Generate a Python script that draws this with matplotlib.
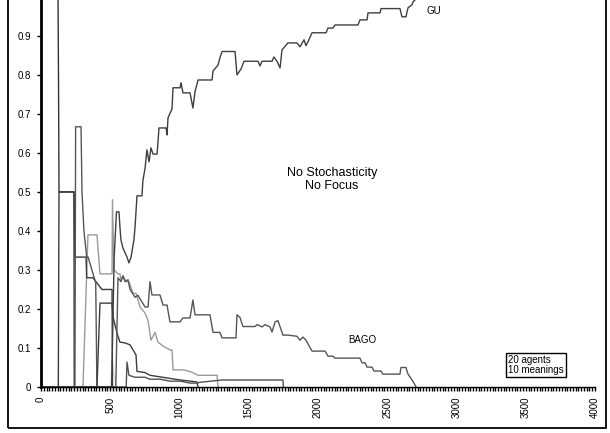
import matplotlib
matplotlib.use("Agg")
import matplotlib.pyplot as plt
from matplotlib.patches import Rectangle
import numpy as np

plt.rcParams['font.family'] = ['Liberation Sans', 'DejaVu Sans']

# --- data (iterations vs. share of agents) ---
gu_x = [0, 510, 528, 545, 563, 570, 577, 592, 621, 635, 650, 671, 679, 693, 729, 736,
        751, 765, 780, 794, 809, 838, 852, 903, 910, 917, 946, 953, 1004, 1011, 1025,
        1076, 1097, 1112, 1134, 1235, 1242, 1278, 1292, 1307, 1401, 1415, 1444, 1466,
        1567, 1581, 1596, 1617, 1668, 1682, 1704, 1726, 1740, 1783, 1848, 1870, 1899,
        1913, 1928, 1957, 2058, 2072, 2108, 2123, 2289, 2303, 2354, 2361, 2448, 2455,
        2592, 2606, 2635, 2650, 2679, 2686, 2722]
gu_y = [0, 0, 0.33, 0.449, 0.449, 0.41, 0.377, 0.356, 0.333, 0.318, 0.333, 0.377, 0.41,
        0.49, 0.49, 0.53, 0.56, 0.608, 0.577, 0.613, 0.597, 0.597, 0.664, 0.664, 0.646,
        0.69, 0.713, 0.767, 0.767, 0.78, 0.754, 0.754, 0.715, 0.757, 0.787, 0.787, 0.81,
        0.825, 0.844, 0.86, 0.86, 0.8, 0.815, 0.835, 0.835, 0.823, 0.835, 0.835, 0.835,
        0.846, 0.835, 0.818, 0.864, 0.882, 0.882, 0.872, 0.89, 0.875, 0.885, 0.908,
        0.908, 0.92, 0.92, 0.928, 0.928, 0.941, 0.941, 0.959, 0.959, 0.97, 0.97, 0.949,
        0.949, 0.972, 0.98, 0.987, 1.0]

bago_x = [0, 540, 556, 578, 592, 607, 628, 643, 679, 700, 751, 773, 787, 801, 859, 881,
          910, 931, 1004, 1025, 1076, 1097, 1112, 1220, 1242, 1292, 1307, 1408, 1415,
          1437, 1458, 1545, 1560, 1596, 1617, 1653, 1668, 1690, 1711, 1747, 1783, 1848,
          1870, 1892, 1913, 1957, 2051, 2072, 2108, 2123, 2303, 2318, 2340, 2354, 2390,
          2404, 2455, 2469, 2592, 2599, 2635, 2650, 2679, 2693, 2708]
bago_y = [0, 0, 0.28, 0.27, 0.285, 0.27, 0.275, 0.25, 0.23, 0.235, 0.205, 0.205, 0.27,
          0.236, 0.236, 0.21, 0.21, 0.167, 0.167, 0.177, 0.177, 0.223, 0.185, 0.185,
          0.14, 0.14, 0.126, 0.126, 0.185, 0.178, 0.155, 0.155, 0.16, 0.154, 0.16, 0.154,
          0.141, 0.167, 0.17, 0.133, 0.133, 0.13, 0.12, 0.128, 0.12, 0.092, 0.092, 0.079,
          0.079, 0.074, 0.074, 0.062, 0.062, 0.051, 0.051, 0.041, 0.041, 0.033, 0.033,
          0.05, 0.05, 0.033, 0.018, 0.01, 0]

light_x = [0, 303, 339, 404, 426, 498, 513, 516, 527, 556, 570, 578, 592, 614, 635, 664,
           686, 715, 751, 773, 794, 823, 845, 881, 931, 946, 953, 1029, 1090, 1134, 1271, 1278]
light_y = [0, 0, 0.39, 0.39, 0.29, 0.29, 0.29, 0.48, 0.3, 0.29, 0.29, 0.275, 0.285, 0.27,
           0.27, 0.24, 0.24, 0.205, 0.19, 0.17, 0.12, 0.14, 0.115, 0.105, 0.095, 0.095,
           0.044, 0.044, 0.038, 0.03, 0.03, 0]

early1_x = [0, 123, 127, 130, 238, 240]
early1_y = [1.0, 1.0, 0.75, 0.5, 0.5, 0]

early2_x = [0, 125, 130, 238, 245, 325, 330, 375, 440, 513, 516]
early2_y = [0, 0, 0.5, 0.5, 0.333, 0.333, 0.28, 0.28, 0.25, 0.25, 0]

early3_x = [0, 245, 250, 289, 296, 303, 310, 330, 340, 395, 404]
early3_y = [0, 0, 0.667, 0.667, 0.5, 0.45, 0.4, 0.333, 0.333, 0.267, 0]

fall_x = [0, 404, 426, 513, 520, 549, 570, 607, 643, 686, 693, 751, 787, 1004, 1126, 1134]
fall_y = [0, 0, 0.215, 0.215, 0.18, 0.138, 0.115, 0.113, 0.108, 0.082, 0.04, 0.037,
          0.03, 0.018, 0.013, 0]

tail_x = [0, 615, 621, 635, 679, 751, 787, 859, 931, 1004, 1076, 1126, 1148, 1307, 1747, 1750]
tail_y = [0, 0, 0.064, 0.03, 0.025, 0.025, 0.02, 0.02, 0.015, 0.015, 0.01, 0.01, 0.012,
          0.018, 0.018, 0]

spike_x = [0, 505, 513, 540]
spike_y = [0, 0, 0.07, 0]

yticks = [0, 0.1, 0.2, 0.3, 0.4, 0.5, 0.6, 0.7, 0.8, 0.9]
ytick_labels = ["0", "0.1", "0.2", "0.3", "0.4", "0.5", "0.6", "0.7", "0.8", "0.9"]
xticks = [0, 500, 1000, 1500, 2000, 2500, 3000, 3500, 4000]

fig = plt.figure(figsize=(6.10, 4.33), dpi=100)
ax = fig.add_axes([41 / 610, 46 / 433, 554 / 610, 387 / 433])

ax.plot(spike_x, spike_y, color="#dddddd", lw=1)
ax.plot(light_x, light_y, color="#9a9a9a", lw=1)
ax.plot(early1_x, early1_y, color="#333333", lw=1)
ax.plot(early2_x, early2_y, color="#3a3a3a", lw=1)
ax.plot(early3_x, early3_y, color="#555555", lw=1)
ax.plot(fall_x, fall_y, color="#3c3c3c", lw=1)
ax.plot(tail_x, tail_y, color="#505050", lw=1)
ax.plot(bago_x, bago_y, color="#555555", lw=1)
ax.plot(gu_x, gu_y, color="#3f3f3f", lw=1)

ax.set_xlim(0, 4000)
ax.set_ylim(0, 0.992)

for s in ["top", "right"]:
    ax.spines[s].set_visible(False)
ax.spines["left"].set_linewidth(2)
ax.spines["bottom"].set_linewidth(1)

ax.set_yticks(yticks)
ax.set_yticklabels(ytick_labels)
ax.set_xticks(xticks)
ax.set_xticklabels([str(v) for v in xticks], rotation=90)
ax.set_xticks(np.arange(0, 4001, 20), minor=True)
ax.tick_params(axis="y", direction="out", length=3, width=1, labelsize=7, pad=4)
ax.tick_params(axis="x", which="major", direction="out", length=3, width=1,
               labelsize=7, pad=4)
ax.tick_params(axis="x", which="minor", direction="out", length=3, width=1)

ax.text(2787, 0.965, "GU", fontsize=7, ha="left", va="center")
ax.text(2101, 0.531, "No Stochasticity\nNo Focus", fontsize=9, ha="center",
        va="center", linespacing=1.1)
ax.text(2217, 0.12, "BAGO", fontsize=7, ha="left", va="center")
ax.text(3372, 0.056, "20 agents\n10 meanings", fontsize=7, ha="left", va="center",
        linespacing=1.0,
        bbox=dict(boxstyle="square,pad=0.2", fc="white", ec="black", lw=1))

# outer chart frame (top edge falls outside the picture)
fig.patches.append(Rectangle((8 / 610, 5 / 433), 598 / 610, 1.2, transform=fig.transFigure,
                             fill=False, ec="black", lw=1.3))

fig.savefig("out.png", dpi=100)
